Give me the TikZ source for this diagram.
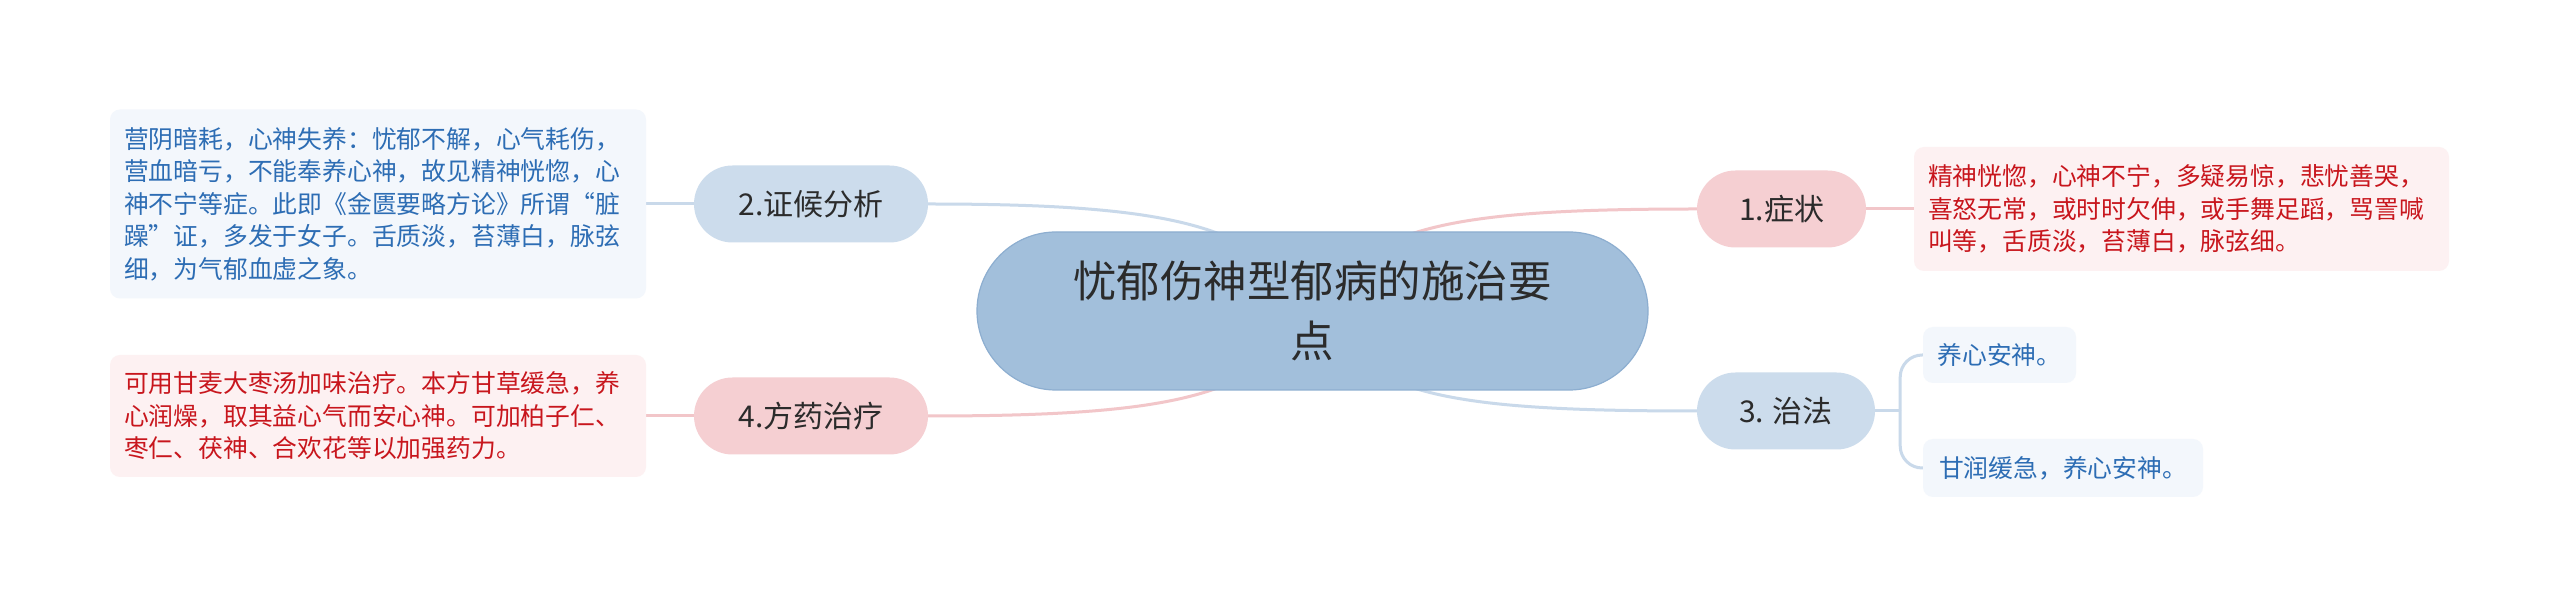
\documentclass[tikz,border=0pt]{standalone}
\usepackage{fontspec}
\setmainfont{Noto Sans CJK SC}
\usetikzlibrary{backgrounds}

\definecolor{rootfill}{HTML}{A2BFDB}
\definecolor{rootdraw}{HTML}{8DAED0}
\definecolor{bluefill}{HTML}{CCDCEC}
\definecolor{redfill}{HTML}{F5CFD2}
\definecolor{blueleaffill}{HTML}{F3F7FC}
\definecolor{redleaffill}{HTML}{FDF1F2}
\definecolor{bluetext}{HTML}{2D6DB4}
\definecolor{redtext}{HTML}{C8161D}
\definecolor{bluewire}{HTML}{C9D9EA}
\definecolor{redwire}{HTML}{F2C6C9}
\definecolor{darktext}{HTML}{2B2B2B}

\tikzstyle{rootnode}=[fill=rootfill, draw=rootdraw, line width=1.2, rounded corners=79, minimum width=671, minimum height=158, align=center, text=darktext, font=\fontsize{43.5}{60}\selectfont]
\tikzstyle{topicnode}=[rounded corners=38.5, minimum height=77, inner sep=0, text=darktext, font=\fontsize{30}{36}\selectfont]
\tikzstyle{bluetopic}=[topicnode, fill=bluefill]
\tikzstyle{redtopic}=[topicnode, fill=redfill]
\tikzstyle{leafnode}=[rounded corners=10, inner xsep=14, inner ysep=0, align=left, font=\fontsize{24.8}{32.5}\selectfont]
\tikzstyle{blueleaf}=[leafnode, fill=blueleaffill, text=bluetext]
\tikzstyle{redleaf}=[leafnode, fill=redleaffill, text=redtext]
\tikzstyle{blueline}=[bluewire, line width=3]
\tikzstyle{redline}=[redwire, line width=3]

\begin{document}
\begin{tikzpicture}[x=1pt, y=1pt]
  \useasboundingbox (0,0) rectangle (2560,607);
  \node[rootnode] (C) at (1312.5,296) {忧郁伤神型郁病的施治要\\点};
  \node[redtopic, minimum width=169] (B1) at (1781.5,398) {1.症状};
  \node[bluetopic, minimum width=234] (B2) at (811,403) {2.证候分析};
  \node[bluetopic, minimum width=178] (B3) at (1786,196) {3. 治法};
  \node[redtopic, minimum width=234] (B4) at (811,191) {4.方药治疗};
  \node[redleaf, text width=507, minimum height=124] (D1) at (2181.5,398) {精神恍惚，心神不宁，多疑易惊，悲忧善哭，\\喜怒无常，或时时欠伸，或手舞足蹈，骂詈喊\\叫等，舌质淡，苔薄白，脉弦细。};
  \node[blueleaf, text width=508, minimum height=189] (D2) at (378,403) {营阴暗耗，心神失养：忧郁不解，心气耗伤，\\营血暗亏，不能奉养心神，故见精神恍惚，心\\神不宁等症。此即《金匮要略方论》所谓“脏\\躁”证，多发于女子。舌质淡，苔薄白，脉弦\\细，为气郁血虚之象。};
  \node[blueleaf, minimum width=153, minimum height=56] (D3a) at (1999.5,252) {养心安神。};
  \node[blueleaf, minimum width=280, minimum height=58] (D3b) at (2063,139) {甘润缓急，养心安神。};
  \node[redleaf, text width=508, minimum height=122] (D4) at (378,191) {可用甘麦大枣汤加味治疗。本方甘草缓急，养\\心润燥，取其益心气而安心神。可加柏子仁、\\枣仁、茯神、合欢花等以加强药力。};
  \coordinate (J) at ([xshift=25]B3.east);

  \begin{pgfonlayer}{background}
    \fill[white] (0,0) rectangle (2560,607);
    % root to topics
    \draw[redline] (B1.west) .. controls +(-252,0) and +(52.5,84) .. (C.center);
    \draw[blueline] (B2.east) .. controls +(252,0) and +(-52.5,84) .. (C.center);
    \draw[blueline] (B3.west) .. controls +(-252,0) and +(52.5,-84) .. (C.center);
    \draw[redline] (B4.east) .. controls +(252,0) and +(-52.5,-84) .. (C.center);
    % topics to details
    \draw[redline] (B1.east) -- (D1.west);
    \draw[blueline] (D2.east) -- (B2.west);
    \draw[redline] (D4.east) -- (B4.west);
    \draw[blueline] (B3.east) -- (J);
    \draw[blueline, rounded corners=22] (J) |- (D3a.west);
    \draw[blueline, rounded corners=22] (J) |- (D3b.west);
  \end{pgfonlayer}
\end{tikzpicture}
\end{document}
